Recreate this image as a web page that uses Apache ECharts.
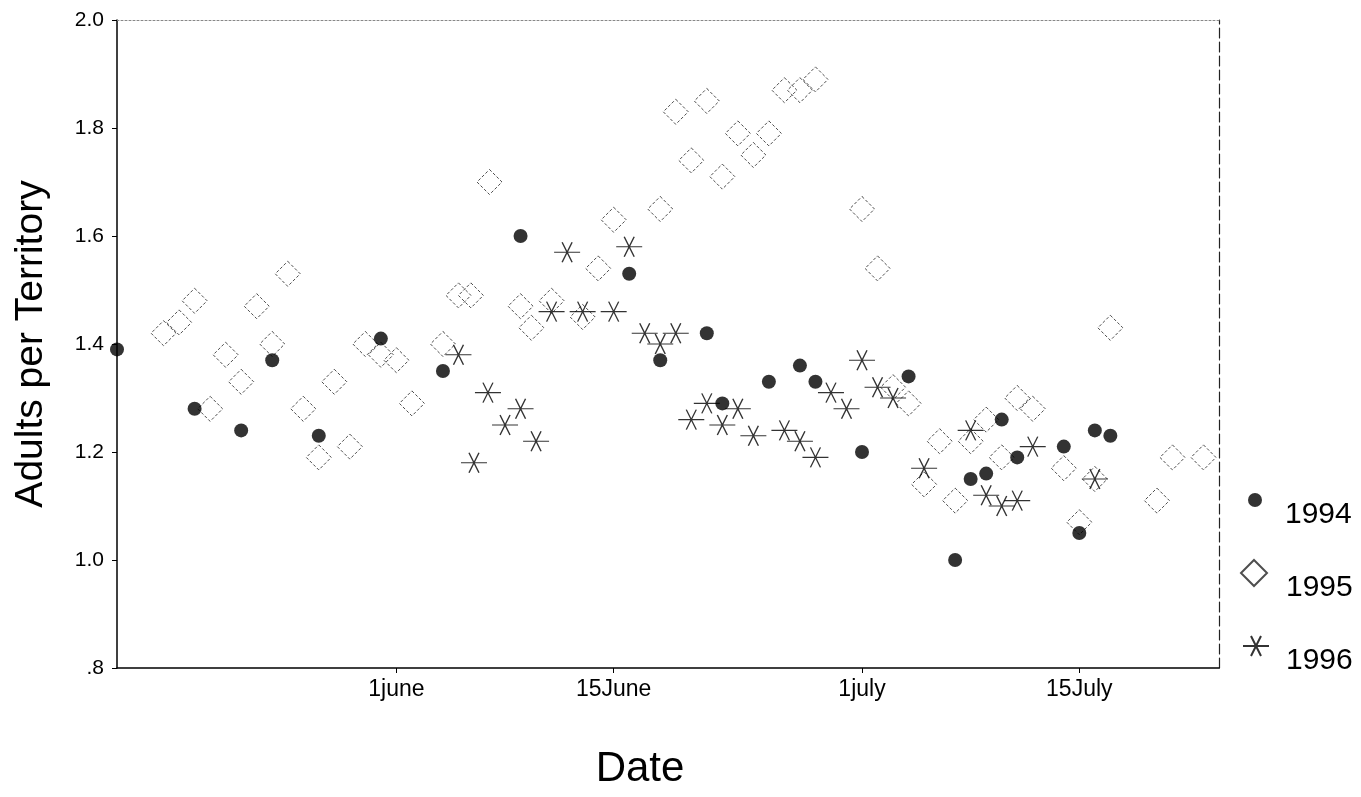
<!DOCTYPE html>
<html>
<head>
<meta charset="utf-8">
<script src="https://cdn.jsdelivr.net/npm/echarts@6/dist/echarts.min.js"></script>
<style>
html,body{margin:0;padding:0;background:#fff;}
#chart{width:1361px;height:797px;}
</style>
</head>
<body>
<div id="chart"></div>
<script>
// Day offsets relative to 1 June
var days1994 = [-18, -13, -10, -8, -5, -1, 3, 8, 15, 17, 20, 21, 24, 26, 27, 30, 33, 36, 37, 38, 39, 40, 43, 44, 45, 46];
var vals1994 = [1.39, 1.28, 1.24, 1.37, 1.23, 1.41, 1.35, 1.60, 1.53, 1.37, 1.42, 1.29, 1.33, 1.36, 1.33, 1.20, 1.34, 1.00, 1.15, 1.16, 1.26, 1.19, 1.21, 1.05, 1.24, 1.23];

var days1995 = [-15, -14, -13, -12, -11, -10, -9, -8, -7, -6, -5, -4, -3, -2, -1, 0, 1, 3, 4, 4.8, 6, 8, 8.7, 10, 12, 13, 14, 17, 18, 19, 20, 21, 22, 23, 24, 25, 26, 27, 30, 31, 32, 33, 34, 35, 36, 37, 38, 39, 40, 41, 43, 44, 45, 46, 49, 50, 52];
var vals1995 = [1.42, 1.44, 1.48, 1.28, 1.38, 1.33, 1.47, 1.40, 1.53, 1.28, 1.19, 1.33, 1.21, 1.40, 1.38, 1.37, 1.29, 1.40, 1.49, 1.49, 1.70, 1.47, 1.43, 1.48, 1.45, 1.54, 1.63, 1.65, 1.83, 1.74, 1.85, 1.71, 1.79, 1.75, 1.79, 1.87, 1.87, 1.89, 1.65, 1.54, 1.32, 1.29, 1.14, 1.22, 1.11, 1.22, 1.26, 1.19, 1.30, 1.28, 1.17, 1.07, 1.15, 1.43, 1.11, 1.19, 1.19];

var days1996 = [4, 5, 5.9, 7, 8, 9, 10, 11, 12, 14, 15, 16, 17, 18, 19, 20, 21, 22, 23, 25, 26, 27, 28, 29, 30, 31, 32, 34, 37, 38, 39, 40, 41, 45];
var vals1996 = [1.38, 1.18, 1.31, 1.25, 1.28, 1.22, 1.46, 1.57, 1.46, 1.46, 1.58, 1.42, 1.40, 1.42, 1.26, 1.29, 1.25, 1.28, 1.23, 1.24, 1.22, 1.19, 1.31, 1.28, 1.37, 1.32, 1.30, 1.17, 1.24, 1.12, 1.10, 1.11, 1.21, 1.15];

var tickDays = [0, 14, 30, 44];
var tickLabels = ['1june', '15June', '1july', '15July'];
var seriesNames = ['1994', '1995', '1996'];

function pairs(xs, ys) {
  var out = [];
  for (var i = 0; i < xs.length; i++) out.push([xs[i], ys[i]]);
  return out;
}

var starPath = 'path://M0,10L26,10M8,0L18,20M18,0L8,20';
var FONT = 'Liberation Sans, Arial, sans-serif';

var chart = echarts.init(document.getElementById('chart'), null, {renderer: 'canvas'});
function legendStyle(padLeft) {
  return {
    color: '#000', fontFamily: FONT, fontSize: 30,
    rich: {t: {fontSize: 30, color: '#000', fontFamily: FONT, padding: [30, 0, 0, padLeft]}}
  };
}
function legendFmt(name) { return '{t|' + name + '}'; }

chart.setOption({
  animation: false,
  backgroundColor: '#fff',
  grid: {left: 117, right: 142, top: 20, bottom: 129, show: false},
  legend: [
    {data: ['1994'], orient: 'vertical', left: 1243, top: 488, itemWidth: 14, itemHeight: 14, textStyle: legendStyle(18), formatter: legendFmt, selectedMode: false},
    {data: ['1995'], orient: 'vertical', left: 1235, top: 554, itemWidth: 26, itemHeight: 26, textStyle: legendStyle(14), formatter: legendFmt, selectedMode: false},
    {data: ['1996'], orient: 'vertical', left: 1237, top: 630, itemWidth: 26, itemHeight: 20, textStyle: legendStyle(12), formatter: legendFmt, selectedMode: false}
  ],
  xAxis: [{
    type: 'value', min: -18, max: 53,
    name: 'Date', nameLocation: 'middle', nameGap: 80,
    nameTextStyle: {fontSize: 42, color: '#000', fontFamily: FONT, padding: [0, 56, 0, 0]},
    axisLine: {show: true, onZero: false, lineStyle: {color: '#000', width: 1.5}},
    axisTick: {show: true, inside: false, length: 5, customValues: tickDays, lineStyle: {color: '#000'}},
    axisLabel: {
      customValues: tickDays, fontSize: 23, color: '#000', fontFamily: FONT, margin: 10,
      formatter: function (v) { var i = tickDays.indexOf(v); return i >= 0 ? tickLabels[i] : ''; }
    },
    splitLine: {show: false}
  }, {
    type: 'value', min: -18, max: 53, position: 'top',
    axisLine: {show: true, onZero: false, lineStyle: {color: '#888', width: 1, type: [2, 2]}},
    axisTick: {show: false}, axisLabel: {show: false}, splitLine: {show: false}
  }],
  yAxis: [{
    type: 'value', min: 0.8, max: 2.0, interval: 0.2,
    name: 'Adults per Territory', nameLocation: 'middle', nameGap: 66,
    nameTextStyle: {fontSize: 39, color: '#000', fontFamily: FONT},
    axisLine: {show: true, onZero: false, lineStyle: {color: '#000', width: 1.5}},
    axisTick: {show: true, inside: false, length: 5, lineStyle: {color: '#000'}},
    axisLabel: {
      fontSize: 21, color: '#000', fontFamily: FONT, margin: 13,
      formatter: function (v) { return Math.abs(v - 0.8) < 1e-6 ? '.8' : v.toFixed(1); }
    },
    splitLine: {show: false}
  }, {
    type: 'value', min: 0.8, max: 2.0, interval: 0.2, position: 'right',
    axisLine: {show: true, onZero: false, lineStyle: {color: '#222', width: 1.2, type: [10, 4]}},
    axisTick: {show: false}, axisLabel: {show: false}, splitLine: {show: false}
  }],
  series: [{
    name: seriesNames[0], type: 'scatter', symbol: 'circle', symbolSize: 14,
    itemStyle: {color: '#000'},
    data: pairs(days1994, vals1994), z: 3
  }, {
    name: seriesNames[1], type: 'scatter', symbol: 'diamond', symbolSize: 25,
    itemStyle: {color: 'rgba(0,0,0,0)', borderColor: '#222', borderWidth: 1, borderType: [3, 2]},
    data: pairs(days1995, vals1995), z: 2
  }, {
    name: seriesNames[2], type: 'scatter', symbol: starPath, symbolSize: [26, 20],
    itemStyle: {color: 'rgba(0,0,0,0)', borderColor: '#000', borderWidth: 1.2},
    data: pairs(days1996, vals1996), z: 2
  }]
});
</script>
</body>
</html>
